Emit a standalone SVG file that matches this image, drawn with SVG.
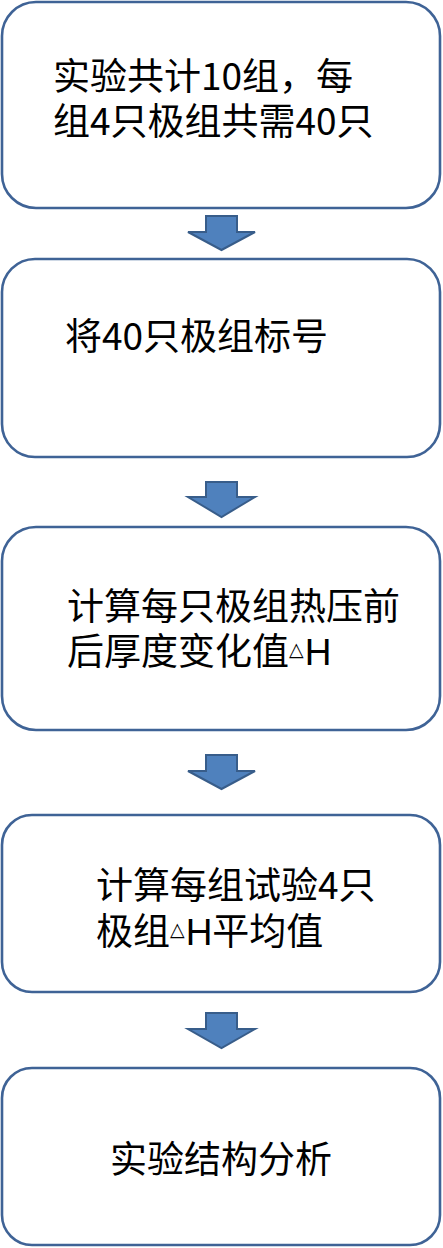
<svg xmlns="http://www.w3.org/2000/svg" width="443" height="1248" viewBox="0 0 443 1248">
<style>
.box{fill:#ffffff;stroke:#3f6396;stroke-width:2.6}
.arr{fill:#4f81bd;stroke:#385d8a;stroke-width:2}
.t{font-family:"Noto Sans CJK SC","Noto Sans",sans-serif;font-size:37px;fill:#000}
.h{font-family:"Liberation Sans",Arial,sans-serif}
.tri{font-family:"DejaVu Sans",sans-serif;font-size:19px}
</style>
<rect width="443" height="1248" fill="#ffffff"/>
<g id="connectors">
<polygon class="arr" points="206,216 237,216 237,232 255,232 221.5,250 188,232 206,232"/>
<polygon class="arr" points="206,482 237,482 237,497 255,497 221.5,517 188,497 206,497"/>
<polygon class="arr" points="206,755 237,755 237,771 255,771 221.5,789 188,771 206,771"/>
<polygon class="arr" points="206,1013 237,1013 237,1029 255,1029 221.5,1048 188,1029 206,1029"/>
</g>
<g id="node1">
<rect class="box" x="2" y="2" width="438" height="206" rx="34" ry="34"/>
<text class="t" x="53" y="90">实验共计10组，每</text>
<text class="t" x="53" y="135">组4只极组共需40只</text>
</g>
<g id="node2">
<rect class="box" x="2" y="259" width="438" height="198" rx="33" ry="33"/>
<text class="t" x="65" y="350">将40只极组标号</text>
</g>
<g id="node3">
<rect class="box" x="2" y="527" width="438" height="203" rx="34" ry="34"/>
<text class="t" x="67" y="620">计算每只极组热压前</text>
<text class="t" x="67" y="665">后厚度变化值<tspan class="tri" dy="-9">△</tspan><tspan class="h" dy="9" dx="1">H</tspan></text>
</g>
<g id="node4">
<rect class="box" x="2" y="815" width="438" height="177" rx="30" ry="30"/>
<text class="t" x="96" y="899">计算每组试验4只</text>
<text class="t" x="96" y="945">极组<tspan class="tri" dy="-9">△</tspan><tspan class="h" dy="9" dx="1">H</tspan>平均值</text>
</g>
<g id="node5">
<rect class="box" x="2" y="1068" width="438" height="177" rx="30" ry="30"/>
<text class="t" x="110" y="1173">实验结构分析</text>
</g>
</svg>
